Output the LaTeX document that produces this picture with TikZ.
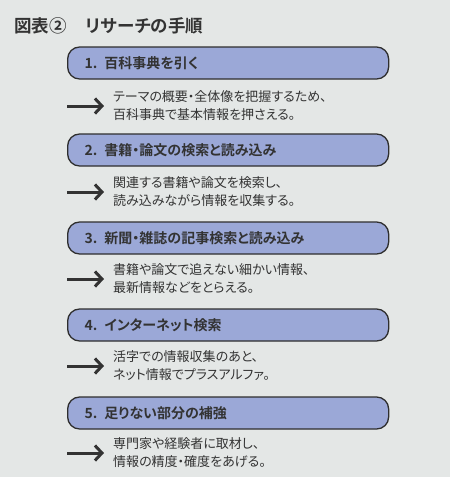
\documentclass[tikz,border=0pt]{standalone}
\usepackage{fontspec}
\setmainfont{Noto Sans CJK JP}[BoldFont={Noto Sans CJK JP Bold},RawFeature=+palt]
\usetikzlibrary{arrows.meta}
\definecolor{bgcol}{HTML}{E4E7E6}
\definecolor{stepfill}{HTML}{9BA8D7}
\definecolor{textcol}{HTML}{333333}
\tikzset{
  stepbox/.style={draw=textcol!90!black,line width=1.3pt,fill=stepfill,rounded corners=12pt,
    minimum width=321pt,minimum height=32pt,anchor=west,text=textcol,
    font=\fontsize{14pt}{16pt}\selectfont\bfseries,text width=287pt,inner xsep=17pt},
  desc/.style={anchor=west,align=left,text=textcol,inner xsep=13pt,
    font=\fontsize{13pt}{18pt}\selectfont},
  goarrow/.style={draw=textcol,line width=3pt,-{Straight Barb[length=7pt,width=15pt,line width=3pt]}},
}
\begin{document}
\begin{tikzpicture}[x=1pt,y=-1pt]
  \useasboundingbox[fill=bgcol] (0,0) rectangle (450,477);
  \node[anchor=west,inner sep=0pt,text=textcol,font=\fontsize{17.5pt}{19pt}\selectfont\bfseries]
    (title) at (14,26) {図表②\hspace{1.1em}リサーチの手順};
  % steps
  \node[stepbox] (s1) at (67,63) {1. 百科事典を引く};
  \node[stepbox] (s2) at (67,150) {2. 書籍・論文の検索と読み込み};
  \node[stepbox] (s3) at (67,238) {3. 新聞・雑誌の記事検索と読み込み};
  \node[stepbox] (s4) at (67,325) {4. インターネット検索};
  \node[stepbox] (s5) at (67,413) {5. 足りない部分の補強};
  % notes
  \node[desc] (d1) at (100,106) {テーマの概要・全体像を把握するため、\\百科事典で基本情報を押さえる。};
  \node[desc] (d2) at (100,192) {関連する書籍や論文を検索し、\\読み込みながら情報を収集する。};
  \node[desc] (d3) at (100,279) {書籍や論文で追えない細かい情報、\\最新情報などをとらえる。};
  \node[desc] (d4) at (100,366) {活字での情報収集のあと、\\ネット情報でプラスアルファ。};
  \node[desc] (d5) at (100,453) {専門家や経験者に取材し、\\情報の精度・確度をあげる。};
  \foreach \i in {1,...,5} {
    \coordinate (a\i) at (s\i.west |- d\i.west);
    \draw[goarrow] (a\i) -- ([xshift=4pt]d\i.west);
  }
\end{tikzpicture}
\end{document}
